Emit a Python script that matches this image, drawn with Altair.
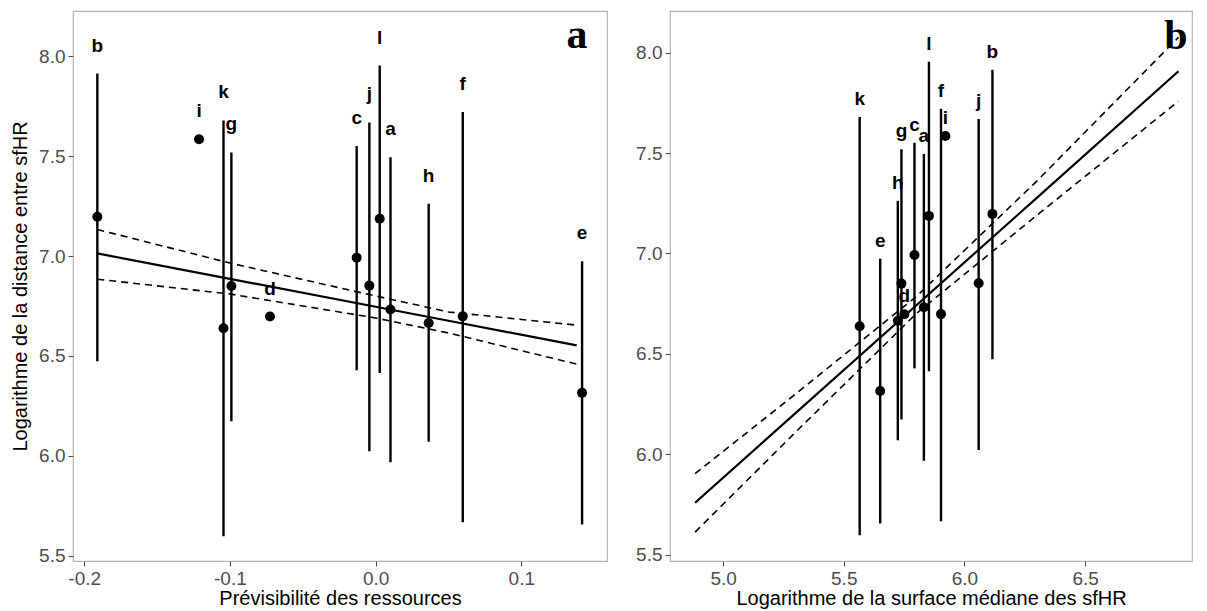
import altair as alt
import pandas as pd

# ---------------- data ----------------
sites = ["a", "b", "c", "d", "e", "f", "g", "h", "i", "j", "k", "l"]
dist_log = [6.732, 7.197, 6.992, 6.697, 6.315, 6.698, 6.850, 6.665, 7.585, 6.852, 6.638, 7.187]
dist_low = [5.968, 6.473, 6.428, None, 5.656, 5.667, 6.173, 6.070, None, 6.022, 5.597, 6.414]
dist_high = [7.495, 7.914, 7.551, None, 6.974, 7.721, 7.519, 7.262, None, 7.669, 7.679, 7.954]
predictability = [0.0102, -0.191, -0.013, -0.0725, 0.1417, 0.0598, -0.099, 0.0364, -0.1212, -0.0043, -0.1044, 0.0028]
log_area = [5.832, 6.116, 5.793, 5.751, 5.651, 5.903, 5.739, 5.724, 5.921, 6.059, 5.566, 5.853]

fit_a_x = [-0.191, -0.1, 0.0, 0.05, 0.138]
fit_a_y = [7.013, 6.886, 6.746, 6.676, 6.553]
fit_a_up = [7.133, 6.965, 6.800, 6.720, 6.654]
fit_a_lo = [6.884, 6.810, 6.690, 6.615, 6.459]

fit_b_x = [4.884, 5.3, 5.8, 6.3, 6.887]
fit_b_y = [5.759, 6.205, 6.741, 7.277, 7.907]
fit_b_up = [5.904, 6.300, 6.785, 7.360, 8.076]
fit_b_lo = [5.613, 6.110, 6.700, 7.190, 7.758]

x_ticks_a = [-0.2, -0.1, 0.0, 0.1]
x_ticks_b = [5.0, 5.5, 6.0, 6.5]
y_ticks = [5.5, 6.0, 6.5, 7.0, 7.5, 8.0]

FONT = "Liberation Sans"
LABEL_EXPR = "replace(format(datum.value, '.1f'), '\u2212', '-')"


def panel(xvals, xdom, ydom, xticks, xtitle, ytitle, fx, fy, fup, flo,
          letter, label_dy, width, height, letter_x, letter_y):
    df = pd.DataFrame({"site": sites, "x": xvals, "y": dist_log,
                       "lo": dist_low, "hi": dist_high})
    df["top"] = df["hi"].fillna(df["y"])

    xs = alt.Scale(domain=xdom, nice=False, zero=False)
    ys = alt.Scale(domain=ydom, nice=False, zero=False)
    x_axis = alt.Axis(values=xticks, title=xtitle, labelExpr=LABEL_EXPR)
    if ytitle:
        y_axis = alt.Axis(values=y_ticks, title=ytitle, format=".1f")
    else:
        y_axis = alt.Axis(values=y_ticks, title=None, format=".1f")

    base = alt.Chart(df)
    bars = base.transform_filter("isValid(datum.lo)").mark_rule(
        color="black", strokeWidth=2.4
    ).encode(
        x=alt.X("x:Q", scale=xs, axis=x_axis),
        y=alt.Y("lo:Q", scale=ys, axis=y_axis),
        y2="hi:Q",
    )
    pts = base.mark_circle(size=100, color="black", opacity=1).encode(
        x=alt.X("x:Q", scale=xs),
        y=alt.Y("y:Q", scale=ys),
    )
    labels = base.mark_text(
        font=FONT, fontSize=19, fontWeight="bold", color="black",
        baseline="alphabetic", dy=label_dy
    ).encode(
        x=alt.X("x:Q", scale=xs),
        y=alt.Y("top:Q", scale=ys),
        text="site:N",
    )

    fit_df = pd.DataFrame({"x": fx, "fit": fy, "upper": fup, "lower": flo})
    solid = alt.Chart(fit_df).mark_line(color="black", strokeWidth=2.2).encode(
        x=alt.X("x:Q", scale=xs),
        y=alt.Y("fit:Q", scale=ys),
    )
    band_df = pd.concat([
        pd.DataFrame({"x": fx, "v": fup, "kind": "upper"}),
        pd.DataFrame({"x": fx, "v": flo, "kind": "lower"}),
    ])
    dashed = alt.Chart(band_df).mark_line(
        color="black", strokeWidth=1.6, strokeDash=[7, 5]
    ).encode(
        x=alt.X("x:Q", scale=xs),
        y=alt.Y("v:Q", scale=ys),
        detail="kind:N",
    )
    tag = alt.Chart(pd.DataFrame({"t": [letter]})).mark_text(
        font="Liberation Serif", fontSize=42, fontWeight="bold", color="black",
        align="center", baseline="alphabetic"
    ).encode(x=alt.value(letter_x), y=alt.value(letter_y), text="t:N")

    return alt.layer(bars, dashed, solid, pts, labels, tag).properties(
        width=width, height=height
    )


pa = panel(predictability, [-0.2077, 0.1588], [5.473, 8.227], x_ticks_a,
           "Prévisibilité des ressources", "Logarithme de la distance entre sfHR",
           fit_a_x, fit_a_y, fit_a_up, fit_a_lo, "a", -22, 534, 550, 504, 37)
pb = panel(log_area, [4.780, 6.943], [5.469, 8.207], x_ticks_b,
           "Logarithme de la surface médiane des sfHR", None,
           fit_b_x, fit_b_y, fit_b_up, fit_b_lo, "b", -12, 522, 550, 506, 38)

chart = alt.hconcat(pa, pb, spacing=26).properties(
    padding={"left": 1, "top": 2, "right": 0, "bottom": 0}
).configure(
    font=FONT
).configure_view(
    stroke="#b3b3b3", strokeWidth=1.2
).configure_axis(
    domain=False, grid=False,
    tickColor="#4d4d4d", tickSize=5, tickWidth=1,
    labelColor="#4d4d4d", labelFont=FONT, labelFontSize=19, labelPadding=3,
    titleColor="black", titleFont=FONT, titleFontSize=20, titleFontWeight="normal",
)
chart = chart.configure_axisX(titlePadding=0, labelPadding=3)
chart = chart.configure_axisY(titlePadding=8)

chart.save("out.html", embed_options={"renderer": "svg", "actions": False})
